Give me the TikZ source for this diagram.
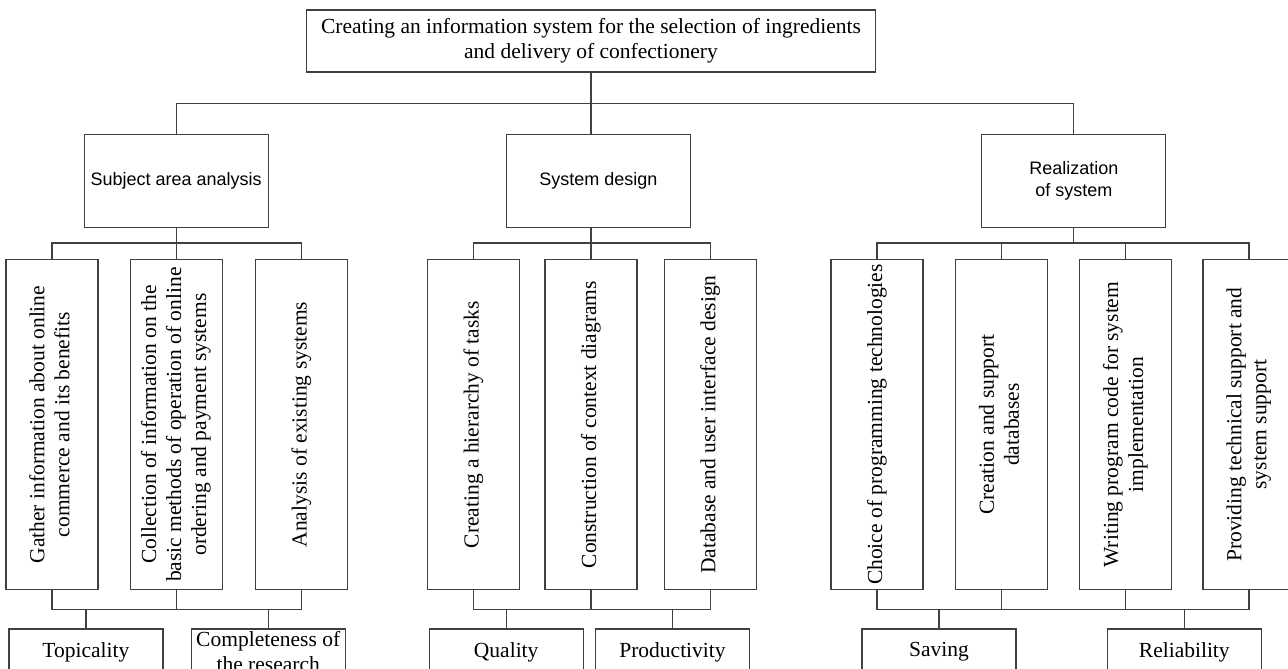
\documentclass[tikz,border=0pt]{standalone}
\usepackage{fontspec}
\setmainfont{Liberation Serif}
\setsansfont{Liberation Sans}
\usepackage{graphicx}
\usetikzlibrary{calc}
\usetikzlibrary{positioning}

\newcommand{\uptext}[1]{\rotatebox{90}{\begin{tabular}{@{}c@{}}#1\end{tabular}}}

\begin{document}
\begin{tikzpicture}[line width=1.3pt]
        \tikzset{goalbox/.style= {draw=black!75, rectangle, align=center, inner sep=0pt, minimum width=569pt, minimum height=62pt, font=\fontsize{21.5}{25}\selectfont},
        stagebox/.style= {draw=black!75, rectangle, align=center, inner sep=0pt, minimum width=184pt, minimum height=93pt, font=\sffamily\fontsize{18}{22}\selectfont},
        taskbox/.style= {draw=black!75, rectangle, inner sep=0pt, minimum width=92pt, minimum height=330pt, font=\fontsize{21.5}{25}\selectfont},
        critbox/.style= {draw=black!75, rectangle, align=center, inner sep=0pt, minimum width=154pt, minimum height=46pt, font=\fontsize{21.5}{25}\selectfont},
        link/.style= {draw=black!75}
        }
        \useasboundingbox (0,0) rectangle (1288pt,-669pt);
        \node [goalbox] (goal) at (591pt,-41pt) {Creating an information system for the selection of ingredients\\and delivery of confectionery};
        \node [stagebox, below=61pt of goal, xshift=7.5pt] (sd) {System design};
        \node [stagebox, left=237pt of sd] (saa) {Subject area analysis};
        \node [stagebox, right=290pt of sd] (rs) {Realization\\of system};

        \node [taskbox, below=31pt of saa] (sa2) {\uptext{Collection of information on the\\basic methods of operation of online\\ordering and payment systems}};
        \node [taskbox, left=31pt of sa2] (sa1) {\uptext{Gather information about online\\commerce and its benefits}};
        \node [taskbox, right=32pt of sa2] (sa3) {\uptext{Analysis of existing systems}};

        \node [taskbox, below=31pt of sd, xshift=-7.5pt] (sd2) {\uptext{Construction of context diagrams}};
        \node [taskbox, left=24pt of sd2] (sd1) {\uptext{Creating a hierarchy of tasks}};
        \node [taskbox, right=26pt of sd2] (sd3) {\uptext{Database and user interface design}};

        \node [taskbox, below=31pt of rs, xshift=-72.5pt] (rs2) {\uptext{Creation and support\\databases}};
        \node [taskbox, left=31pt of rs2] (rs1) {\uptext{Choice of programming technologies}};
        \node [taskbox, right=31pt of rs2] (rs3) {\uptext{Writing program code for system\\implementation}};
        \node [taskbox, right=30pt of rs3] (rs4) {\uptext{Providing technical support and\\system support}};

        \node [critbox, below=38pt of sa1, xshift=34pt] (topic) {Topicality};
        \node [critbox, right=27pt of topic] (compl) {Completeness of\\the research};
        \node [critbox, below=38pt of sd1, xshift=32.5pt] (quality) {Quality};
        \node [critbox, right=11pt of quality] (prod) {Productivity};
        \node [critbox, below=38pt of rs1, xshift=62pt] (saving) {Saving};
        \node [critbox, right=90pt of saving] (reliab) {Reliability};

%% buses
        \coordinate (mainbus) at ($(goal.south)+(0,-31pt)$);
        \coordinate (sabus) at ($(saa.south)+(0,-15pt)$);
        \coordinate (sdbus) at ($(sd.south -| goal.south)+(0,-15pt)$);
        \coordinate (rsbus) at ($(rs.south)+(0,-15pt)$);
        \coordinate (salow) at ($(sa2.south)+(0,-19pt)$);
        \coordinate (sdlow) at ($(sd2.south)+(0,-19pt)$);
        \coordinate (rslow) at ($(rs2.south)+(0,-19pt)$);

%% paths
        \path[link] (goal.south) -- (mainbus)
                    (saa.north) |- (mainbus) -| (rs.north)
                    (mainbus) -- (mainbus |- sd.north)
                    (saa.south) -- (sabus)
                    (sd.south -| goal.south) -- (sdbus)
                    (rs.south) -- (rsbus);
        \foreach \c in {sa1,sa2,sa3} \path[link] (\c.north) |- (sabus) (\c.south) |- (salow);
        \foreach \c in {sd1,sd2,sd3} \path[link] (\c.north) |- (sdbus) (\c.south) |- (sdlow);
        \foreach \c in {rs1,rs2,rs3,rs4} \path[link] (\c.north) |- (rsbus) (\c.south) |- (rslow);
        \foreach \b in {topic,compl} \path[link] (\b.north) -- (\b.north |- salow);
        \foreach \b in {quality,prod} \path[link] (\b.north) -- (\b.north |- sdlow);
        \foreach \b in {saving,reliab} \path[link] (\b.north) -- (\b.north |- rslow);
\end{tikzpicture}
\end{document}
